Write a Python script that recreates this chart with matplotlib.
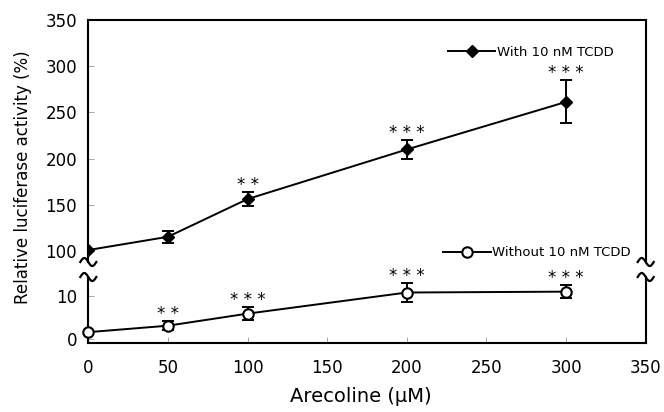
import numpy as np
import matplotlib.pyplot as plt
from matplotlib.lines import Line2D

plt.rcParams['font.family'] = ['DejaVu Sans']

dose = [0, 50, 100, 200, 300]
with_tcdd = [101.4, 115.7, 156.4, 209.9, 261.2]
with_err = [0, 6.3, 7.5, 9.9, 23.2]
without_tcdd = [1.7, 3.2, 6.0, 10.9, 11.1]
without_err = [0, 1.0, 1.55, 2.3, 1.55]
with_stars = ['', '', '* *', '* * *', '* * *']
without_stars = ['', '* *', '* * *', '* * *', '* * *']
x_ticks = [0, 50, 100, 150, 200, 250, 300, 350]
top_ticks = [100, 150, 200, 250, 300, 350]
bot_ticks = [0, 10]

W, H = 664, 412
fig = plt.figure(figsize=(W / 100, H / 100), dpi=100)

left, right = 88.3, 645.7
top_y, brk_hi, brk_lo, bot_y = 19.6, 262, 277, 342.5
ax_top = fig.add_axes([left / W, 1 - brk_hi / H, (right - left) / W, (brk_hi - top_y) / H])
ax_bot = fig.add_axes([left / W, 1 - bot_y / H, (right - left) / W, (bot_y - brk_lo) / H])

# upper series (with TCDD)
h1, = ax_top.plot(dose, with_tcdd, color='black', lw=1.4, marker='D', ms=6,
                  label='With 10 nM TCDD')
ax_top.errorbar(dose, with_tcdd, yerr=with_err, fmt='none', ecolor='black',
                elinewidth=1.4, capsize=4, capthick=1.4)
for x, y, e, s in zip(dose, with_tcdd, with_err, with_stars):
    if s:
        ax_top.annotate(s, (x, y + e), xytext=(0, 1.5), textcoords='offset points',
                        ha='center', va='baseline', fontsize=12)

# lower series (without TCDD)
h2, = ax_bot.plot(dose, without_tcdd, color='black', lw=1.4, marker='o', ms=7.5,
                  mfc='white', mew=1.5, label='Without 10 nM TCDD', clip_on=False,
                  zorder=4)
ax_bot.errorbar(dose, without_tcdd, yerr=without_err, fmt='none', ecolor='black',
                elinewidth=1.4, capsize=4, capthick=1.4, zorder=3)
for x, y, e, s in zip(dose, without_tcdd, without_err, without_stars):
    if s:
        ax_bot.annotate(s, (x, y + e), xytext=(0, 1.5), textcoords='offset points',
                        ha='center', va='baseline', fontsize=12, annotation_clip=False)

ax_top.set_xlim(0, 350)
ax_bot.set_xlim(0, 350)
ax_top.set_ylim(88.5, 350)
ax_bot.set_ylim(-0.7, 14.5)

ax_top.set_xticks([])
ax_top.set_yticks(top_ticks)
ax_bot.set_yticks(bot_ticks)
ax_bot.set_xticks(x_ticks)

for ax in (ax_top, ax_bot):
    for sp in ax.spines.values():
        sp.set_linewidth(1.5)
    ax.tick_params(direction='in', length=4, width=0.6, color='#999999',
                   labelsize=12)
    ax.tick_params(axis='y', pad=8)
ax_bot.tick_params(axis='x', pad=12)
ax_top.spines['bottom'].set_visible(False)
ax_bot.spines['top'].set_visible(False)

# axis break marks
t = np.linspace(0, 1, 40)
for xc in (left, right):
    for yc in (brk_hi, brk_lo):
        xs = (xc + (t - 0.5) * 16) / W
        ys = 1 - (yc - 4 * np.sin(2 * np.pi * t)) / H
        fig.add_artist(Line2D(xs, ys, color='black', lw=1.6))

fig.text(23 / W, 1 - 177.5 / H, 'Relative luciferase activity (%)', rotation=90,
         ha='center', va='center', fontsize=12)
fig.text(361 / W, 1 - 397 / H, 'Arecoline (\u03bcM)', ha='center', va='center',
         fontsize=14)

fig.legend(handles=[h1], loc='center left', bbox_to_anchor=(448 / W, 1 - 52 / H),
           frameon=False, fontsize=9.5, handlelength=3.6, handletextpad=0.15,
           borderpad=0, borderaxespad=0)
fig.legend(handles=[h2], loc='center left', bbox_to_anchor=(443 / W, 1 - 253 / H),
           frameon=False, fontsize=9.5, handlelength=3.6, handletextpad=0.15,
           borderpad=0, borderaxespad=0)

fig.savefig('out.png', dpi=100)
